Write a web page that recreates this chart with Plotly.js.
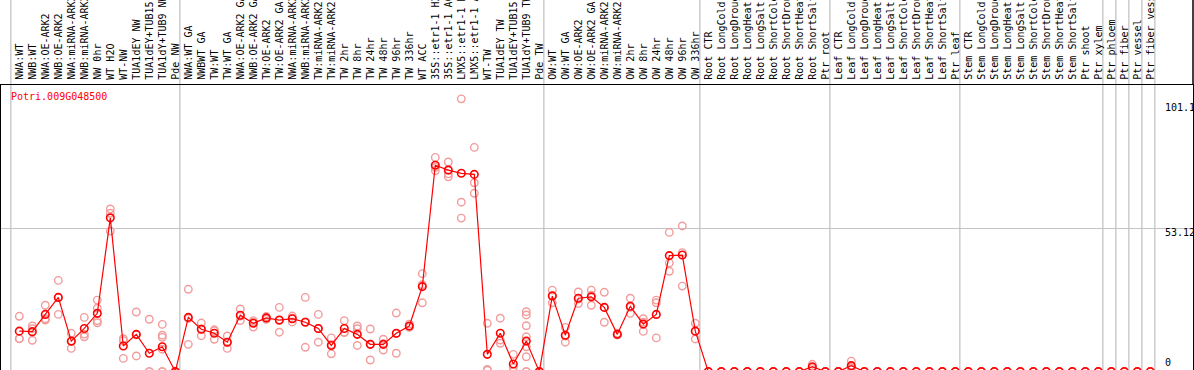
<!DOCTYPE html>
<html>
<head>
<meta charset="utf-8">
<script src="https://cdn.plot.ly/plotly-3.0.1.min.js"></script>
<style>
html,body{margin:0;padding:0;background:#fff;overflow:hidden;}
#chart{width:1194px;height:370px;}
</style>
</head>
<body>
<div id="chart"></div>
<script>
// ---- data ----
const geneId = "Potri.009G048500";

const sampleLabels = [
  "NWA:WT","NWB:WT","NWA:OE-ARK2","NWB:OE-ARK2","NWA:miRNA-ARK2","NWB:miRNA-ARK2","NW 0hr","WT H2O","WT-NW","TUA1dEY NW","TUA1dEY+TUB15 NW","TUA1dY+TUB9 NW","Pde NW",
  "NWA:WT GA","NWBWT GA","TW:WT","TW:WT GA","NWA:OE-ARK2 GA","NWB:OE-ARK2 GA","TW:OE-ARK2","TW:OE-ARK2 GA","NWA:miRNA-ARK2","NWB:miRNA-ARK2","TW:miRNA-ARK2","TW:miRNA-ARK2",
  "TW 2hr","TW 8hr","TW 24hr","TW 48hr","TW 96hr","TW 336hr","WT ACC","35S::etr1-1 H2O","35S::etr1-1 ACC","LMX5::etr1-1 H2O","LMX5::etr1-1 ACC","WT-TW","TUA1dEY TW","TUA1dEY+TUB15 TW","TUA1dY+TUB9 TW","Pde TW",
  "OW:WT","OW:WT GA","OW:OE-ARK2","OW:OE-ARK2 GA","OW:miRNA-ARK2","OW:miRNA-ARK2","OW 2hr","OW 8hr","OW 24hr","OW 48hr","OW 96hr","OW 336hr",
  "Root CTR","Root LongCold","Root LongDrought","Root LongHeat","Root LongSalt","Root ShortCold","Root ShortDrought","Root ShortHeat","Root ShortSalt","Ptr root",
  "Leaf CTR","Leaf LongCold","Leaf LongDrought","Leaf LongHeat","Leaf LongSalt","Leaf ShortCold","Leaf ShortDrought","Leaf ShortHeat","Leaf ShortSalt","Ptr leaf",
  "Stem CTR","Stem LongCold","Stem LongDrought","Stem LongHeat","Stem LongSalt","Stem ShortCold","Stem ShortDrought","Stem ShortHeat","Stem ShortSalt","Ptr shoot",
  "Ptr xylem","Ptr phloem","Ptr fiber","Ptr vessel","Ptr fiber vessel"
];

const meanValues = [
  15.0,14.8,21.2,27.5,11.3,16.0,21.6,57.0,9.5,13.8,6.8,9.2,0,
  20.1,15.7,14.2,10.9,20.9,17.9,19.9,19.1,19.6,18.3,16.0,9.7,
  16.0,13.8,10.1,10.1,14.2,16.9,31.5,76.5,74.7,73.5,73.1,6.4,14.2,2.8,11.3,0,
  28.0,13.5,27.2,27.7,23.8,13.8,24.2,17.6,21.2,43.0,43.2,15.0,
  0,0,0,0,0,0,0,0,1.8,0,
  0,2.2,0,0,0,0,0,0,0,0,
  0,0,0,0,0,0,0,0,0,0,
  0,0,0,0,0
];

const replicateValues = [
  [20.5,12.2,12.2],[16.9,11.6,15.9],[24.6,19.6,19.1],[33.8,21.2,27.5],[14.2,8.6,11.1],[20.1,13.9,12.9],
  [26.5,23.5,18.9,18.1],[60.3,58.7,52.1],[12.2,11.5,4.9],[22.1,5.8,13.6],[19.4,0,0],[17.5,13.5,12.7,8.3,0,0],[0,0,0],
  [30.5,10.1,19.7],[18.0,13.3,15.8],[15.5,12.0,15.1],[13.2,8.6,10.9],[23.2,18.9,20.6],[18.9,16.5,18.3],
  [19.4,20.4,19.9],[23.8,14.6,18.9],[20.6,18.4,19.8],[27.5,9.0,18.4],[21.2,10.9,15.9],[12.5,6.6,10.0],
  [18.9,14.6,14.5],[16.9,15.9,9.7],[15.8,4.3,10.2],[12.0,8.0,10.3],[21.7,6.8,14.1],[17.6,16.7,16.4],
  [36.3,32.2,25.5],[79.4,75.7,74.5],[77.7,73.3,72.2],[101.1,62.8,56.9],[83.1,70.0,66.1],[17.9,0.8,0.5],
  [19.8,11.7,10.5],[6.4,1.5,0],[22.2,21.0,17.0,12.9,9.2,5.5,0,0],[0,0,0],
  [30.2,25.5,28.3],[16.4,10.9,13.2],[29.5,25.2,26.9],[30.2,24.6,28.3],[29.4,18.3,23.7],[14.2,13.6,13.6],
  [27.2,21.6,23.8],[19.6,14.9,18.3],[26.5,25.5,12.5],[51.6,40.3,37.2],[54.0,44.1,31.7],[17.9,12.1,15.0],
  [0,0,0],[0,0,0],[0,0,0],[0,0,0],[0,0,0],[0,0,0],[0,0,0],[0,0,0],[2.7,1.5,1.2],[0,0,0],
  [0,0,0],[3.9,1.6,1.1],[0,0,0],[0,0,0],[0,0,0],[0,0,0],[0,0,0],[0,0,0],[0,0,0],[0,0,0],
  [0,0,0],[0,0,0],[0,0,0],[0,0,0],[0,0,0],[0,0,0],[0,0,0],[0,0,0],[0,0,0],[0,0,0],
  [0,0,0],[0,0,0],[0,0,0],[0,0,0],[0,0,0]
];

// indices where a new sample group starts (grey separators)
const groupStarts = [0,13,41,53,63,73,84,85,86,87,88];
// y-axis reference labels
const yLabelValues = [101.1, 53.12, 0];
const yLabelTexts = ["101.1", "53.12", "0"];

// ---- build ----
const idx = sampleLabels.map((_, i) => i);
const repX = [], repY = [];
replicateValues.forEach((arr, i) => arr.forEach(v => { repX.push(i); repY.push(v); }));

const mono = "'DejaVu Sans Mono', 'Liberation Mono', monospace";
const yRange = [0.593, 106.24];

const traces = [
  {
    x: repX, y: repY, type: 'scatter', mode: 'markers',
    marker: {symbol: 'circle-open', size: 7.5, color: '#f29c9c', line: {width: 1.4, color: '#f29c9c'}},
    hoverinfo: 'skip', showlegend: false
  },
  {
    x: idx, y: meanValues, type: 'scatter', mode: 'lines+markers',
    line: {color: '#ff0000', width: 1.2},
    marker: {symbol: 'circle-open', size: 7.5, color: '#ff0000', line: {width: 1.6, color: '#ff0000'}},
    showlegend: false
  }
];

const shapes = groupStarts.map(g => ({
  type: 'line', xref: 'x', yref: 'paper', x0: g - 0.65, x1: g - 0.65, y0: -0.05, y1: 1.35,
  line: {color: '#c4c4c4', width: 1.3}, layer: 'below'
}));
// right border through header
shapes.push({type: 'line', xref: 'paper', yref: 'paper', x0: 1, x1: 1, y0: 1, y1: 1.35,
  line: {color: '#000', width: 1.5}});

const yShifts = [-1, 3, 0];
const annotations = [
  {text: geneId, xref: 'paper', yref: 'paper', x: 0.0065, y: 0.958, xanchor: 'left', yanchor: 'middle',
   showarrow: false, font: {family: mono, size: 10, color: '#ff0000'}}
];
yLabelValues.forEach((v, i) => {
  const below = v < yRange[0];
  annotations.push({
    text: yLabelTexts[i], xref: 'paper', yref: below ? 'paper' : 'y', x: 0.9745, y: below ? 0 : v,
    xanchor: 'left', yanchor: below ? 'bottom' : 'top', yshift: yShifts[i],
    showarrow: false, font: {family: mono, size: 10, color: '#000'}
  });
});

const layout = {
  width: 1194, height: 370,
  margin: {l: 1, r: 1, t: 85, b: 0, pad: 0},
  paper_bgcolor: '#fff', plot_bgcolor: '#fff',
  font: {family: mono, size: 10, color: '#000'},
  xaxis: {
    range: [-1.408, 90.285], side: 'top', tickmode: 'array', tickvals: idx, ticktext: sampleLabels,
    tickangle: -90, ticks: '', showgrid: false, zeroline: false, automargin: false,
    showline: true, mirror: true, linecolor: '#000', linewidth: 1.3,
    tickfont: {family: mono, size: 10, color: '#000'}, ticklabelstandoff: 2, ticklabelshift: 0
  },
  yaxis: {
    range: yRange, tickmode: 'array', tickvals: [53.12], showticklabels: false, ticks: '',
    showgrid: true, gridcolor: '#c4c4c4', gridwidth: 1.3, zeroline: false, automargin: false,
    showline: true, mirror: true, linecolor: '#000', linewidth: 1.3
  },
  shapes: shapes,
  annotations: annotations,
  showlegend: false
};

Plotly.newPlot('chart', traces, layout, {displayModeBar: false, staticPlot: true});
</script>
</body>
</html>
